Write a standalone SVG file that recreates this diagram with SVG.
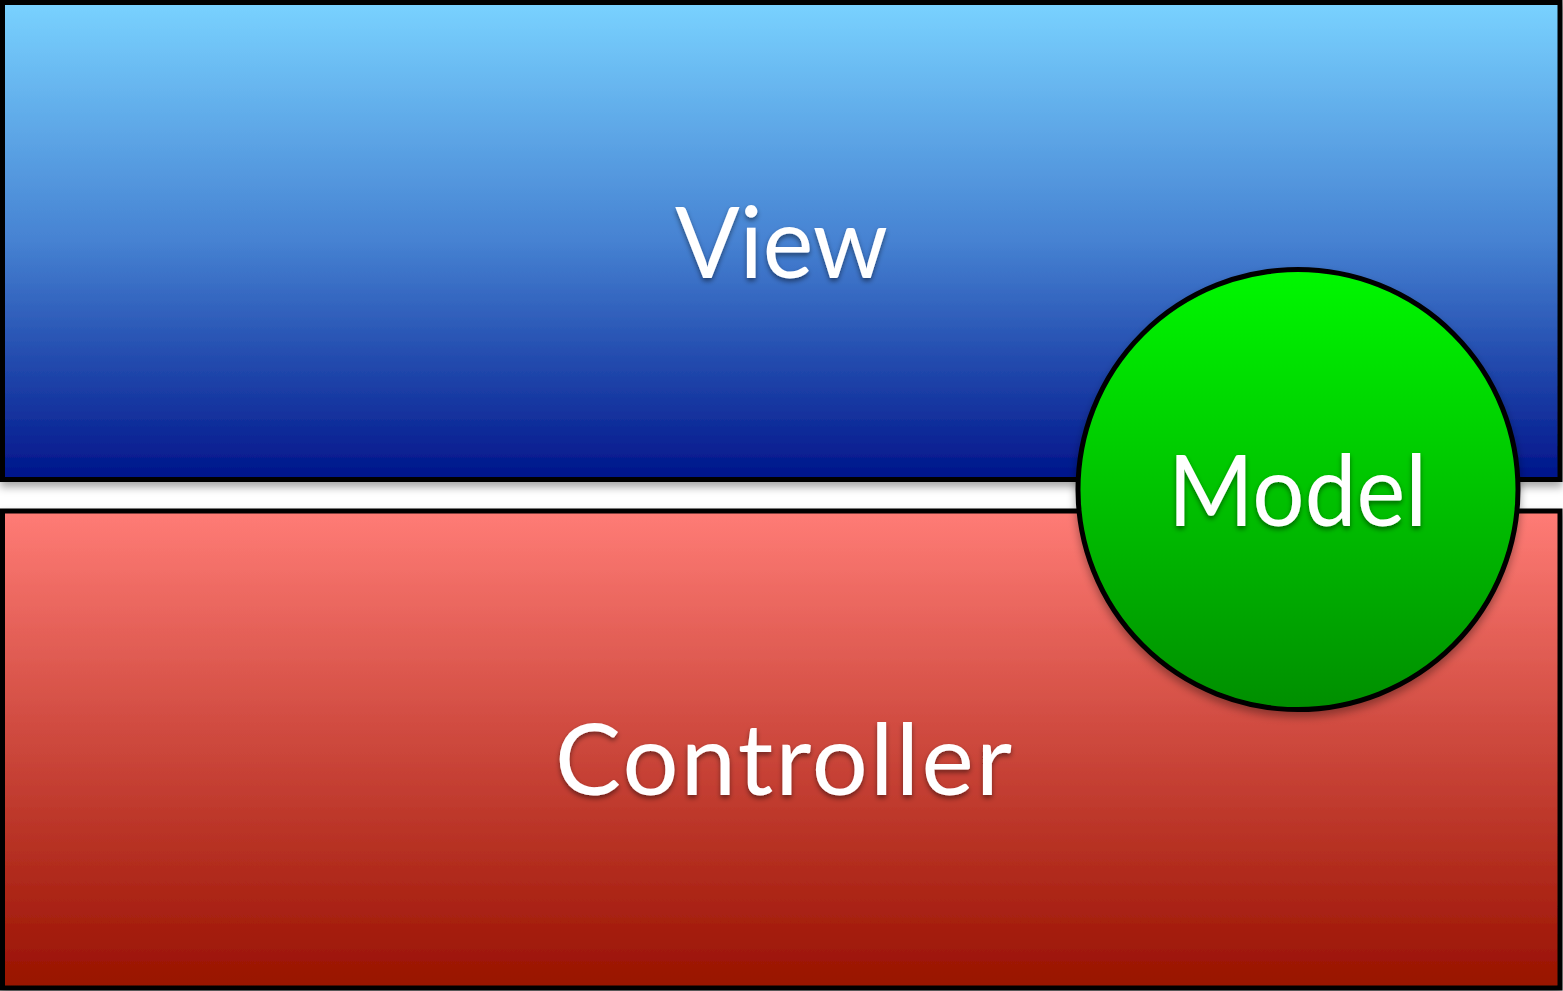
<svg xmlns="http://www.w3.org/2000/svg" width="1563" height="991" viewBox="0 0 1563 991">
<defs>
<linearGradient id="gBlue" x1="0" y1="0" x2="0" y2="1">
<stop offset="0" stop-color="#79D2FF"/>
<stop offset="0.5" stop-color="#4682D2"/>
<stop offset="1" stop-color="#00148A"/>
</linearGradient>
<linearGradient id="gRed" x1="0" y1="0" x2="0" y2="1">
<stop offset="0" stop-color="#FF7C76"/>
<stop offset="1" stop-color="#981100"/>
</linearGradient>
<linearGradient id="gGreen" x1="0" y1="0" x2="0" y2="1">
<stop offset="0" stop-color="#00F800"/>
<stop offset="1" stop-color="#008E00"/>
</linearGradient>
<filter id="boxShadow" x="-5%" y="-5%" width="110%" height="115%">
<feDropShadow dx="0" dy="5" stdDeviation="4" flood-color="#000" flood-opacity="0.35"/>
</filter>
<filter id="textShadow" x="-10%" y="-10%" width="120%" height="130%">
<feDropShadow dx="0" dy="3" stdDeviation="2.5" flood-color="#000" flood-opacity="0.45"/>
</filter>
</defs>
<style>
.box{stroke:#000;stroke-width:5;filter:url(#boxShadow)}
.lbl{font-family:Lato,"Open Sans","Liberation Sans",sans-serif;fill:#fff;text-anchor:middle;filter:url(#textShadow)}
</style>
<rect width="1563" height="991" fill="#fff"/>
<g id="view">
<rect class="box" x="2.5" y="2.5" width="1557.5" height="477" fill="url(#gBlue)"/>
<text class="lbl" x="781.5" y="278" font-size="99" textLength="213" lengthAdjust="spacingAndGlyphs">View</text>
</g>
<g id="controller">
<rect class="box" x="2.5" y="511" width="1557.5" height="477" fill="url(#gRed)"/>
<text class="lbl" x="783.5" y="795" font-size="99" textLength="457" lengthAdjust="spacing">Controller</text>
</g>
<g id="model">
<circle class="box" cx="1298" cy="489.5" r="220" fill="url(#gGreen)"/>
<text class="lbl" x="1297.5" y="526" font-size="99" textLength="259" lengthAdjust="spacingAndGlyphs">Model</text>
</g>
<g id="connectors"/>
</svg>
